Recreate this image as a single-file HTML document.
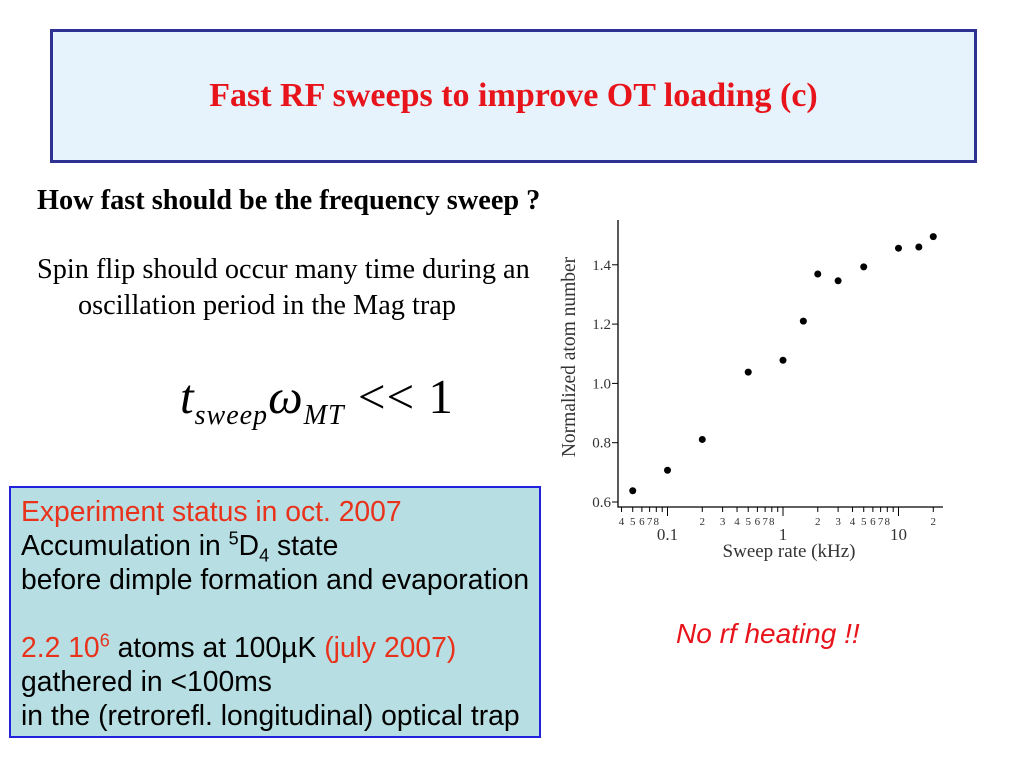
<!DOCTYPE html>
<html><head><meta charset="utf-8"><style>
body{margin:0;width:1024px;height:768px;background:#fff;position:relative;overflow:hidden;font-family:"Liberation Serif",serif}
.abs{position:absolute}
sup,sub{line-height:0}
</style></head><body>
<div class="abs" style="left:50px;top:29px;width:921px;height:128px;border:3px solid #2e3192;background:#e6f3fc"></div>
<div class="abs" style="left:50px;top:77px;width:927px;text-align:center;color:#e8141b;font-weight:bold;font-size:34px">Fast RF sweeps to improve OT loading (c)</div>
<div class="abs" style="left:37px;top:185px;font-size:28.3px;font-weight:bold;white-space:nowrap">How fast should be the frequency sweep ?</div>
<div class="abs" style="left:37px;top:252px;font-size:28.3px;line-height:36px;white-space:nowrap">Spin flip should occur many time during an<br><span style="padding-left:41px">oscillation period in the Mag trap</span></div>
<div class="abs" style="left:180px;top:368px;font-size:49px;font-style:italic;white-space:nowrap;letter-spacing:1px">t<sub style="font-size:28px">sweep</sub>ω<sub style="font-size:28px">MT</sub> <span style="font-style:normal">&lt;&lt; 1</span></div>
<div class="abs" style="left:9px;top:486px;width:532px;height:252px;border:2px solid #2222dd;background:#b7dfe3;font-family:'Liberation Sans',sans-serif;font-size:28.3px;line-height:34px;padding:6px 0 0 10px;box-sizing:border-box;white-space:nowrap">
<span style="color:#e8321b">Experiment status in oct. 2007</span><br>Accumulation in <sup style="font-size:18px">5</sup>D<sub style="font-size:18px">4</sub> state<br>before dimple formation and evaporation<br><br><span style="color:#e8321b">2.2 10<sup style="font-size:18px">6</sup></span> atoms at 100µK <span style="color:#e8321b">(july 2007)</span><br>gathered in &lt;100ms<br>in the (retrorefl. longitudinal) optical trap</div>
<div class="abs" style="left:676px;top:618px;color:#e8141b;font-style:italic;font-family:'Liberation Sans',sans-serif;font-size:28px">No rf heating !!</div>
<svg class="abs" style="left:0;top:0" width="1024" height="768" id="chart"></svg>
<script>
const xValues=[0.05,0.1,0.2,0.5,1,1.5,2,3,5,10,15,20];
const yValues=[0.638,0.707,0.811,1.038,1.078,1.21,1.369,1.346,1.393,1.456,1.46,1.495];
const yTicks=[0.6,0.8,1.0,1.2,1.4];
const xMajor=[0.1,1,10];
const xMajorLabels=["0.1","1","10"];
const xMinor=[0.04,0.05,0.06,0.07,0.08,0.09,0.2,0.3,0.4,0.5,0.6,0.7,0.8,0.9,2,3,4,5,6,7,8,9,20];
const svg=document.getElementById('chart');
const NS='http://www.w3.org/2000/svg';
function xs(v){return 783+115.5*Math.log10(v);}
function ys(v){return 502-(v-0.6)*296.5;}
function mk(t,a,p){const e=document.createElementNS(NS,t);for(const k in a)e.setAttribute(k,a[k]);(p||svg).appendChild(e);return e;}
const ax=mk('path',{d:'M618 220 V507 H943',stroke:'#000','stroke-width':1.3,fill:'none'});


yTicks.forEach(v=>{
 mk('line',{x1:612,x2:618,y1:ys(v),y2:ys(v),stroke:'#000'});
 const t=mk('text',{x:611,y:ys(v)+5,'text-anchor':'end','font-size':15,'font-family':'Liberation Serif',fill:'#333'});
 t.textContent=v.toFixed(1);
 
 
});
xMajor.forEach((v,i)=>{
 mk('line',{x1:xs(v),x2:xs(v),y1:507,y2:516,stroke:'#000'});
 const t=mk('text',{x:xs(v),y:540,'text-anchor':'middle','font-size':17,'font-family':'Liberation Serif',fill:'#333'});
 t.textContent=xMajorLabels[i];
 
 
});
xMinor.forEach(v=>{
 mk('line',{x1:xs(v),x2:xs(v),y1:507,y2:512,stroke:'#000'});
 const d=Math.round(v/Math.pow(10,Math.floor(Math.log10(v)+1e-9)));
 if(d!==9){const t=mk('text',{x:xs(v),y:525,'text-anchor':'middle','font-size':11,'font-family':'Liberation Serif',fill:'#333'});t.textContent=d;
 
 }
});
const xt=mk('text',{x:789,y:557,'text-anchor':'middle','font-size':19,'font-family':'Liberation Serif',fill:'#333'});
xt.textContent='Sweep rate (kHz)';


const yt=mk('text',{x:0,y:0,'text-anchor':'middle','font-size':19.5,'font-family':'Liberation Serif',fill:'#333',transform:'translate(575,357) rotate(-90)'});
yt.textContent='Normalized atom number';


xValues.forEach((v,i)=>{
 const c=mk('circle',{cx:xs(v),cy:ys(yValues[i]),r:3.5,fill:'#000'});
 
 
});
</script>
</body></html>
